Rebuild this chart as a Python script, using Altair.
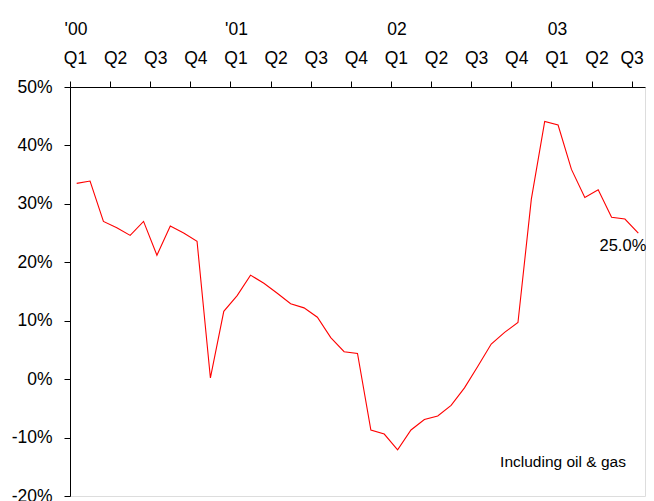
import json
import altair as alt
import pandas as pd

# Monthly values, Jan 2000 .. Jul 2003 (percent, year-on-year)
months = list(range(43))
values = [33.5, 33.9, 27.0, 25.9, 24.6, 27.0, 21.2, 26.2, 25.0, 23.6,
          0.2, 11.6, 14.3, 17.8, 16.4, 14.7, 12.9, 12.2, 10.6, 7.1,
          4.7, 4.4, -8.7, -9.4, -12.1, -8.7, -6.9, -6.3, -4.5, -1.5,
          2.2, 6.0, 8.0, 9.7, 30.8, 44.1, 43.5, 35.9, 31.1, 32.4,
          27.7, 27.4, 25.0]

quarter_labels = ["Q1", "Q2", "Q3", "Q4"] * 3 + ["Q1", "Q2", "Q3"]
quarter_ticks = [-0.5 + 3 * i for i in range(len(quarter_labels))]
year_labels = ["'00", "'01", "02", "03"]
year_pos = [-0.5, 11.5, 23.5, 35.5]
y_ticks = [50, 40, 30, 20, 10, 0, -10, -20]
note_text = "Including oil & gas"

FONT = "Liberation Sans"

df = pd.DataFrame({"m": months, "v": values})
years_df = pd.DataFrame({"m": year_pos, "t": year_labels})
last_df = pd.DataFrame({"m": [months[-1]], "v": [values[-1]],
                        "t": [f"{values[-1]:.1f}%"]})
note_df = pd.DataFrame({"t": [note_text]})

q_expr = f"{json.dumps(quarter_labels)}[round((datum.value + 0.5) / 3)]"

x_enc = alt.X(
    "m:Q",
    scale=alt.Scale(domain=[-0.5, 42.5], nice=False, zero=False),
    axis=alt.Axis(orient="top", values=quarter_ticks, labelExpr=q_expr,
                  title=None, grid=False, tickSize=6, labelPadding=18,
                  labelBaseline="alphabetic",
                  labelOffset={"condition": {"test": "datum.value > 40",
                                             "value": 0},
                               "value": 5},
                  labelFlush=False,
                  labelOverlap=False, labelFontSize=17.5, labelFont=FONT,
                  labelColor="black", domainColor="black", tickColor="black"),
)
y_enc = alt.Y(
    "v:Q",
    scale=alt.Scale(domain=[-20, 50], nice=False, zero=False),
    axis=alt.Axis(orient="left", values=y_ticks, labelExpr="datum.value + '%'",
                  title=None, grid=False, tickSize=6, labelPadding=12,
                  labelFlush=False, labelOverlap=False, labelFontSize=17.5,
                  labelFont=FONT, labelColor="black", domainColor="black",
                  tickColor="black"),
)

line = alt.Chart(df).mark_line(color="#FF0000", strokeWidth=1.1).encode(
    x=x_enc, y=y_enc)

years = alt.Chart(years_df).mark_text(
    align="center", baseline="alphabetic", dx=6, fontSize=17.5, font=FONT,
    color="black").encode(x=alt.X("m:Q"), y=alt.value(-52), text="t:N")

last_label = alt.Chart(last_df).mark_text(
    align="right", baseline="alphabetic", dx=8, dy=18, fontSize=16.5,
    font=FONT, color="black").encode(x="m:Q", y="v:Q", text="t:N")

note = alt.Chart(note_df).mark_text(
    align="center", baseline="alphabetic", fontSize=15.5, font=FONT,
    color="black").encode(x=alt.value(493), y=alt.value(380), text="t:N")

chart = alt.layer(line, years, last_label, note).properties(
    width=575, height=409,
    autosize=alt.AutoSizeParams(type="none"),
    padding={"left": 62, "top": 79, "right": 1, "bottom": 5},
).configure_view(stroke=None).configure(background="white")

chart.save("out.html", embed_options={"renderer": "svg", "actions": False})
